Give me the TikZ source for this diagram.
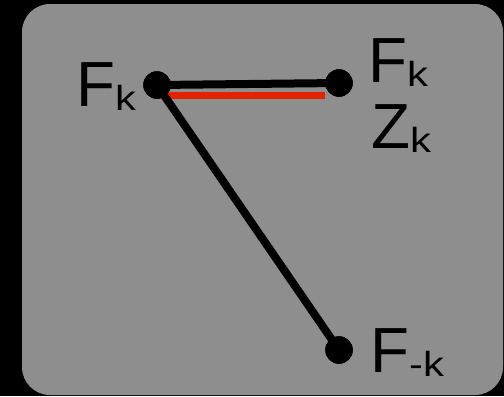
\documentclass[tikz,border=0pt]{standalone}
\usepackage{fontspec}
\usepackage{graphicx}
\setmainfont{Liberation Sans}
\definecolor{panel}{RGB}{142,142,142}
\definecolor{redline}{RGB}{226,34,0}
\newcommand{\sublab}[1]{\raisebox{-4bp}{\fontsize{35}{35}\selectfont\scalebox{1.2}[1]{#1}}}
\begin{document}
\begin{tikzpicture}[x=1bp,y=-1bp,
  dot/.style={circle,fill=black,inner sep=0pt,minimum size=27.5bp},
  lab/.style={anchor=base west,inner sep=0pt,font=\fontsize{64}{64}\selectfont},
  edge/.style={line width=8bp,black},
  rededge/.style={line width=7bp,redline}]
\useasboundingbox (0,0) rectangle (504,396);
\fill[black] (0,0) rectangle (504,396);
\fill[panel,rounded corners=28bp] (22,4) rectangle (503,395);
\coordinate (r1) at (160,95.5);
\coordinate (r2) at (325,95.5);
\node[dot] (a) at (157,85) {};
\node[dot] (b) at (339,83) {};
\node[dot] (c) at (339,350) {};
\draw[rededge] (r1) -- (r2);
\draw[edge] (a.center) -- (b.center);
\draw[edge] (a.center) -- (c.center);
\node[dot] at (a) {};
\node[dot] at (b) {};
\node[dot] at (c) {};
\node[lab] (la) at (76,106) {F\sublab{k}};
\node[lab] (lb) at (368,82) {F\sublab{k}};
\node[lab] (lz) at (371,148) {Z\sublab{k}};
\node[lab] (lc) at (370,372) {F\sublab{-k}};
\end{tikzpicture}
\end{document}
